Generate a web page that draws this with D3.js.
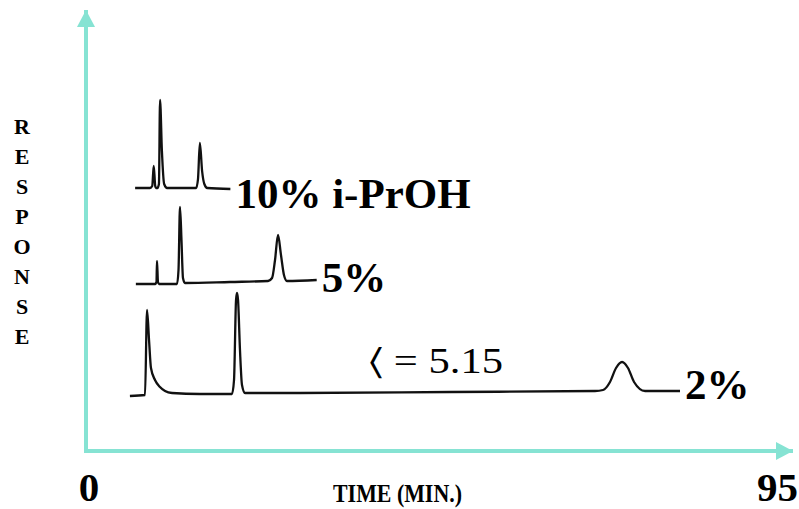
<!DOCTYPE html>
<html>
<head>
<meta charset="utf-8">
<script src="https://cdn.jsdelivr.net/npm/d3@7"></script>
<style>
  body { margin: 0; background: #fff; }
  svg { display: block; }
  text { font-family: "Liberation Serif", "Times New Roman", serif; fill: #000; }
  .bold { font-weight: bold; }
</style>
</head>
<body>
<div class="graph-container"></div>
<script>
// chromatogram traces, [time (min), response]
var trace10 = [[6.6,263],[8.6,263],[8.9,265],[9.1,285],[9.3,265],[9.4,263],[9.6,263],[9.8,267],[9.95,351],
  [10.2,300],[10.5,267],[10.9,263],[14.8,263],[15.05,272],[15.3,308],[15.6,280],[15.9,267],[16.3,263],[19.4,262]];
var trace5 = [[6.7,167],[9.27,167],[9.47,169],[9.54,190],[9.67,169],[9.81,167],[12.23,167],[12.43,181],[12.63,244],
  [12.83,211],[13.03,173],[13.3,168],[19.35,169],[24.46,170],[25.0,173],[25.4,191],[25.8,216],[26.2,196],
  [26.6,176],[27.0,170],[31.0,171]];
var trace2 = [[5.9,55],[7.93,56],[8.2,141],[8.47,111],[8.73,83],[9.27,71],[9.94,64],[10.62,60],[11.56,58],
  [15.32,57],[19.62,57],[19.89,71],[20.16,151],[20.29,158],[20.43,151],[20.69,101],[20.96,66],[21.37,58],
  [28.76,58],[48.91,59],[68.4,60],[69.47,61],[70.41,69],[71.22,83],[72.03,89],[72.83,83],[73.64,69],
  [75.12,60],[79.82,60]];

var traces = [trace10, trace5, trace2];
var traceLabels = ['10% i-PrOH', '5%', '2%'];
var axisTicks = [0, 95];
var annotation = '\u2329 = 5.15';

var svgWidth = 799;
var svgHeight = 509;
var axisColor = '#86e3d3';
// how far below the end of its trace each label sits
var labelDy = [19, 12, 8];

var svg = d3.select('.graph-container').append('svg')
  .attr('width', svgWidth)
  .attr('height', svgHeight);

var xScale = d3.scaleLinear().domain([0, 95]).range([86, 793]);
var yScale = d3.scaleLinear().domain([0, 441]).range([451, 10]);

// arrow head for the axes
svg.append('defs').append('marker')
  .attr('id', 'arrow')
  .attr('viewBox', '0 0 18 18')
  .attr('refX', 17)
  .attr('refY', 9)
  .attr('markerWidth', 18)
  .attr('markerHeight', 18)
  .attr('markerUnits', 'userSpaceOnUse')
  .attr('orient', 'auto')
  .append('path')
    .attr('d', 'M0,0 L17,9 L0,18 Z')
    .attr('fill', axisColor);

// x axis
svg.append('line')
  .attr('x1', xScale(0))
  .attr('y1', yScale(0))
  .attr('x2', xScale(95))
  .attr('y2', yScale(0))
  .attr('stroke', axisColor)
  .attr('stroke-width', 4)
  .attr('marker-end', 'url(#arrow)');

// y axis
svg.append('line')
  .attr('x1', xScale(0))
  .attr('y1', yScale(0) + 2)
  .attr('x2', xScale(0))
  .attr('y2', yScale(441))
  .attr('stroke', axisColor)
  .attr('stroke-width', 4)
  .attr('marker-end', 'url(#arrow)');

var line = d3.line()
  .x(function(d) { return xScale(d[0]); })
  .y(function(d) { return yScale(d[1]); })
  .curve(d3.curveMonotoneX);

svg.selectAll('path.trace')
  .data(traces)
  .enter()
  .append('path')
  .attr('class', 'trace')
  .attr('d', line)
  .attr('fill', 'none')
  .attr('stroke', '#111')
  .attr('stroke-width', 2.3)
  .attr('stroke-linejoin', 'round');

// labels at the end of each trace
svg.selectAll('text.trace-label')
  .data(traces)
  .enter()
  .append('text')
  .attr('class', 'trace-label bold')
  .attr('x', function(d) { return xScale(d[d.length - 1][0]) + 5; })
  .attr('y', function(d, i) { return yScale(d[d.length - 1][1]) + labelDy[i]; })
  .style('font-size', '43px')
  .text(function(d, i) { return traceLabels[i]; });

// annotation
svg.append('text')
  .attr('x', 369)
  .attr('y', 373)
  .attr('textLength', 134)
  .attr('lengthAdjust', 'spacingAndGlyphs')
  .style('font-size', '36px')
  .text(annotation);

// end labels of the time axis
svg.append('text')
  .attr('class', 'bold')
  .attr('x', xScale(axisTicks[0]) + 3)
  .attr('y', 501)
  .style('text-anchor', 'middle')
  .style('font-size', '41px')
  .text(axisTicks[0]);

svg.append('text')
  .attr('class', 'bold')
  .attr('x', xScale(axisTicks[1]) + 5)
  .attr('y', 501)
  .style('text-anchor', 'end')
  .style('font-size', '41px')
  .text(axisTicks[1]);

// axis titles
svg.append('text')
  .attr('class', 'bold')
  .attr('x', 333)
  .attr('y', 502)
  .attr('textLength', 129)
  .attr('lengthAdjust', 'spacingAndGlyphs')
  .style('font-size', '25px')
  .text('TIME (MIN.)');

svg.append('text')
  .attr('class', 'bold')
  .style('font-size', '22px')
  .style('text-anchor', 'middle')
  .selectAll('tspan')
  .data('RESPONSE'.split(''))
  .enter()
  .append('tspan')
  .attr('x', 22)
  .attr('y', function(d, i) { return 134 + i * 30; })
  .text(function(d) { return d; });
</script>
</body>
</html>
